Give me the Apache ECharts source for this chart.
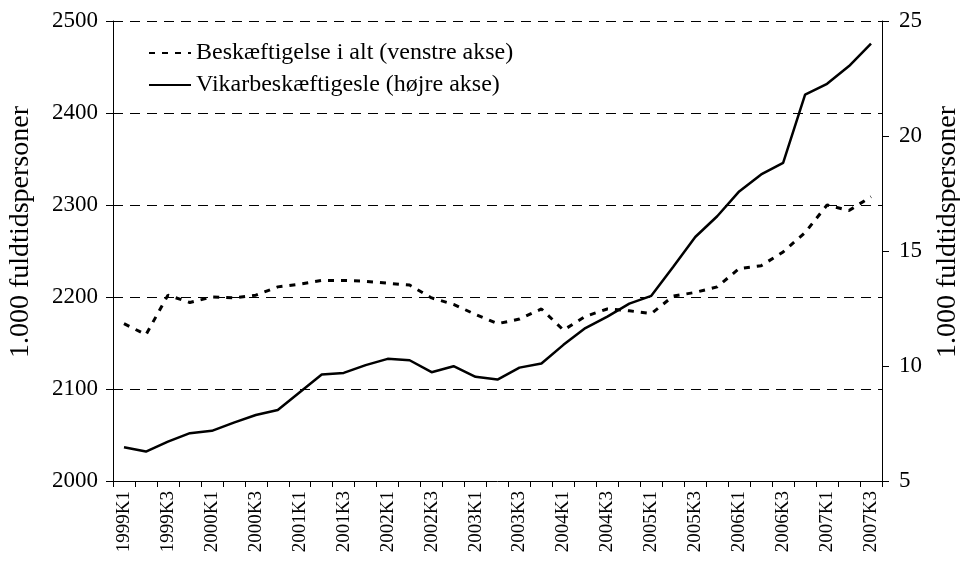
<!DOCTYPE html>
<html>
<head>
<meta charset="utf-8">
<script src="https://cdn.jsdelivr.net/npm/echarts@6/dist/echarts.min.js"></script>
<style>html,body{margin:0;padding:0;background:#fff}#c{width:960px;height:565px}</style>
</head>
<body>
<div id="c"></div>
<script>
const quarters = [
  '1999K1','1999K2','1999K3','1999K4',
  '2000K1','2000K2','2000K3','2000K4',
  '2001K1','2001K2','2001K3','2001K4',
  '2002K1','2002K2','2002K3','2002K4',
  '2003K1','2003K2','2003K3','2003K4',
  '2004K1','2004K2','2004K3','2004K4',
  '2005K1','2005K2','2005K3','2005K4',
  '2006K1','2006K2','2006K3','2006K4',
  '2007K1','2007K2','2007K3'
];
const seriesNames = ['Beskæftigelse i alt (venstre akse)', 'Vikarbeskæftigesle (højre akse)'];
const totalEmployment = [2171, 2159, 2202, 2194, 2200, 2199, 2202, 2211, 2214, 2218, 2218, 2217, 2215, 2213, 2199, 2192, 2181, 2171, 2176, 2187, 2164, 2179, 2187, 2185, 2182, 2201, 2205, 2211, 2231, 2234, 2249, 2270, 2300, 2294, 2309];
const tempEmployment = [6.47, 6.28, 6.71, 7.08, 7.18, 7.54, 7.87, 8.09, 8.86, 9.63, 9.70, 10.04, 10.31, 10.25, 9.73, 9.99, 9.53, 9.41, 9.93, 10.11, 10.92, 11.65, 12.15, 12.71, 13.05, 14.32, 15.61, 16.51, 17.59, 18.33, 18.83, 21.80, 22.27, 23.04, 24.02];
const axisTitle = '1.000 fuldtidspersoner';

const FONT = 'Liberation Serif';
const plain = v => String(v);
const chart = echarts.init(document.getElementById('c'), null, {renderer: 'canvas'});
chart.setOption({
  backgroundColor: '#fff',
  animation: false,
  textStyle: {fontFamily: FONT, color: '#000'},
  grid: {left: 113, right: 78, top: 21, bottom: 84, containLabel: false, outerBoundsMode: 'none'},
  legend: {
    orient: 'vertical', left: 143, top: 36, itemWidth: 42, itemHeight: 14, itemGap: 8,
    itemStyle: {opacity: 0},
    textStyle: {fontFamily: FONT, fontSize: 24, color: '#000'},
    data: seriesNames
  },
  xAxis: {
    type: 'category', data: quarters, boundaryGap: true,
    axisLine: {lineStyle: {color: '#000', width: 1}},
    axisTick: {show: true, interval: 0, length: 6, lineStyle: {color: '#000'}},
    axisLabel: {interval: 1, rotate: 90, fontFamily: FONT, fontSize: 19, color: '#000', margin: 10},
    splitLine: {show: false}
  },
  yAxis: [{
    type: 'value', min: 2000, max: 2500, interval: 100, position: 'left',
    name: axisTitle, nameLocation: 'middle', nameGap: 78, nameRotate: 90,
    nameTextStyle: {fontFamily: FONT, fontSize: 28, color: '#000', padding: [0, 0, 0, 38]},
    axisLine: {show: true, lineStyle: {color: '#000', width: 1}},
    axisTick: {show: true, length: 7, lineStyle: {color: '#000'}},
    axisLabel: {fontFamily: FONT, fontSize: 23, color: '#000', margin: 15, formatter: plain},
    splitLine: {show: true, lineStyle: {color: '#000', width: 1, type: [10, 7]}}
  }, {
    type: 'value', min: 5, max: 25, interval: 5, position: 'right',
    name: axisTitle, nameLocation: 'middle', nameGap: 52, nameRotate: 90,
    nameTextStyle: {fontFamily: FONT, fontSize: 28, color: '#000', padding: [0, 0, 0, 38]},
    axisLine: {show: true, lineStyle: {color: '#000', width: 1}},
    axisTick: {show: true, length: 7, lineStyle: {color: '#000'}},
    axisLabel: {fontFamily: FONT, fontSize: 23, color: '#000', margin: 17, formatter: plain},
    splitLine: {show: false}
  }],
  series: [{
    name: seriesNames[0], type: 'line', yAxisIndex: 0, data: totalEmployment,
    symbol: 'none', smooth: false,
    lineStyle: {color: '#000', width: 3, type: [6, 7]},
    itemStyle: {color: '#000'}
  }, {
    name: seriesNames[1], type: 'line', yAxisIndex: 1, data: tempEmployment,
    symbol: 'none', smooth: false,
    lineStyle: {color: '#000', width: 2.5, type: 'solid'},
    itemStyle: {color: '#000'}
  }]
});
</script>
</body>
</html>
